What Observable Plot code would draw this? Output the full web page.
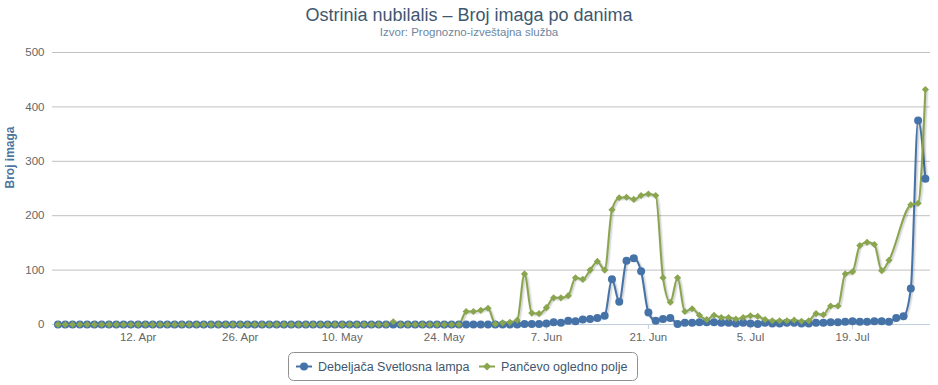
<!DOCTYPE html>
<html>
<head>
<meta charset="utf-8">
<script src="https://cdn.jsdelivr.net/npm/d3@7"></script>
<script src="https://cdn.jsdelivr.net/npm/@observablehq/plot@0.6"></script>
<style>
  html, body { margin: 0; padding: 0; background: #fff; }
  #wrap { position: relative; width: 938px; height: 385px; font-family: "Liberation Sans", Arial, sans-serif; overflow: hidden; }
  #chart { position: absolute; left: 0; top: 0; }
  .title { position: absolute; left: 0; width: 938px; text-align: center; white-space: nowrap; }
  #legend { position: absolute; left: 288px; top: 352px; }
</style>
</head>
<body>
<div id="wrap">
  <div id="chart"></div>
  <div class="title" id="t1" style="top:5px;font-size:18px;color:#3E576F;">Ostrinia nubilalis – Broj imaga po danima</div>
  <div class="title" id="t2" style="top:26px;font-size:11.5px;color:#6D869F;">Izvor: Prognozno-izveštajna služba</div>
  <div id="legend"></div>
</div>
<script>
// ---- data ----
const startDate = "2021-04-01"; // first day of daily series
const seriesNames = ["Debeljača Svetlosna lampa", "Pančevo ogledno polje"];
const seriesColors = ["#4572A7", "#89A54E"];
const debeljaca = [
  0,0,0,0,0,0,0,0,0,0,
  0,0,0,0,0,0,0,0,0,0,
  0,0,0,0,0,0,0,0,0,0,
  0,0,0,0,0,0,0,0,0,0,
  0,0,0,0,0,0,0,0,0,0,
  0,0,0,0,0,0,0,0,0,0,
  0,0,0,0,1,1,1,2,4,3,
  7,6,9,10,12,16,83,42,117,122,
  98,22,7,10,12,1,3,3,4,4,
  4,3,3,2,3,2,1,3,2,2,
  3,3,2,2,3,3,4,4,5,6,
  5,5,6,6,5,12,15,66,375,268
];
const pancevo = [
  0,0,0,0,0,0,0,0,0,0,
  0,0,0,0,0,0,0,0,0,0,
  0,0,0,0,0,0,0,0,0,0,
  0,0,0,0,0,0,0,0,0,0,
  0,0,0,0,0,0,5,0,0,0,
  0,0,0,0,0,0,24,24,26,30,
  1,3,4,8,93,21,20,31,49,49,
  53,86,83,100,116,100,211,233,234,230,
  237,240,237,86,41,86,24,29,17,9,
  17,13,13,10,13,16,15,9,7,7,
  7,8,6,7,20,18,34,34,93,97,
  145,151,147,99,118,null,null,220,223,432
];
const xTickDates = ["2021-04-12","2021-04-26","2021-05-10","2021-05-24","2021-06-07","2021-06-21","2021-07-05","2021-07-19"];
const monthNames = ["Jan","Feb","Mar","Apr","May","Jun","Jul","Aug","Sep","Oct","Nov","Dec"];
const yTicks = [0,100,200,300,400,500];
const yTitle = "Broj imaga";

// ---- build table ----
const start = new Date(startDate);
const toRows = (vals, name) => vals.map((v, i) => ({date: d3.utcDay.offset(start, i), value: v, series: name}))
  .filter(d => d.value != null);
const blue = toRows(debeljaca, seriesNames[0]);
const green = toRows(pancevo, seriesNames[1]);

const DAY = 864e5;
const xDomain = [new Date(+start - 0.75 * DAY), new Date(+start + 119.7 * DAY)];
const font = '"Liberation Sans", Arial, sans-serif';

const shadow = (data) => [
  Plot.line(data, {x: "date", y: "value", curve: "monotone-x", stroke: "#000", strokeOpacity: 0.05, strokeWidth: 5, dx: 1, dy: 1}),
  Plot.line(data, {x: "date", y: "value", curve: "monotone-x", stroke: "#000", strokeOpacity: 0.1, strokeWidth: 3, dx: 1, dy: 1})
];

const chart = Plot.plot({
  width: 938,
  height: 385,
  marginTop: 52,
  marginBottom: 61,
  marginLeft: 52,
  marginRight: 8,
  style: {fontFamily: font, fontSize: "11.5px", background: "transparent", overflow: "visible"},
  x: {type: "utc", domain: xDomain},
  y: {domain: [0, 500]},
  marks: [
    Plot.gridY(yTicks, {stroke: "#C0C0C0", strokeOpacity: 1}),
    Plot.axisY(yTicks, {tickSize: 0, tickPadding: 8, fill: "#666", label: null}),
    Plot.text([yTitle], {frameAnchor: "left", dx: -42, rotate: -90, fontWeight: "bold", fill: "#4d759e", fontSize: 12}),
    Plot.ruleY([0], {stroke: "#C0D0E0"}),
    Plot.axisX(xTickDates.map(d => new Date(d)), {
      tickSize: 5, tickPadding: 3, stroke: "#C0D0E0", fill: "#666", label: null,
      tickFormat: d => `${d.getUTCDate()}. ${monthNames[d.getUTCMonth()]}`
    }),
    ...shadow(blue),
    Plot.line(blue, {x: "date", y: "value", curve: "monotone-x", stroke: seriesColors[0], strokeWidth: 2}),
    ...shadow(green),
    Plot.line(green, {x: "date", y: "value", curve: "monotone-x", stroke: seriesColors[1], strokeWidth: 2}),
    Plot.dot(blue, {x: "date", y: "value", r: 4, fill: seriesColors[0], symbol: "circle"}),
    Plot.dot(green, {x: "date", y: "value", r: 3.2, fill: seriesColors[1], symbol: "diamond2"})
  ]
});
document.getElementById("chart").appendChild(chart);

// ---- legend ----
const lg = d3.select("#legend").append("svg").attr("width", 351).attr("height", 30)
  .style("font-family", font);
lg.append("rect").attr("x", 0.5).attr("y", 0.5).attr("width", 349).attr("height", 28)
  .attr("rx", 5).attr("fill", "#fff").attr("stroke", "#909090");
const items = [{x: 8, name: seriesNames[0], color: seriesColors[0], sym: "circle"},
               {x: 191, name: seriesNames[1], color: seriesColors[1], sym: "diamond"}];
items.forEach(it => {
  lg.append("line").attr("x1", it.x).attr("x2", it.x + 16).attr("y1", 14.5).attr("y2", 14.5)
    .attr("stroke", it.color).attr("stroke-width", 2);
  if (it.sym === "circle") {
    lg.append("circle").attr("cx", it.x + 8).attr("cy", 14.5).attr("r", 4).attr("fill", it.color);
  } else {
    const cx = it.x + 8, cy = 14.5, r = 4;
    lg.append("path").attr("d", `M${cx},${cy - r}L${cx + r},${cy}L${cx},${cy + r}L${cx - r},${cy}Z`).attr("fill", it.color);
  }
  lg.append("text").attr("x", it.x + 22).attr("y", 19).attr("font-size", 12.5).attr("fill", "#3E576F").text(it.name);
});
</script>
</body>
</html>
